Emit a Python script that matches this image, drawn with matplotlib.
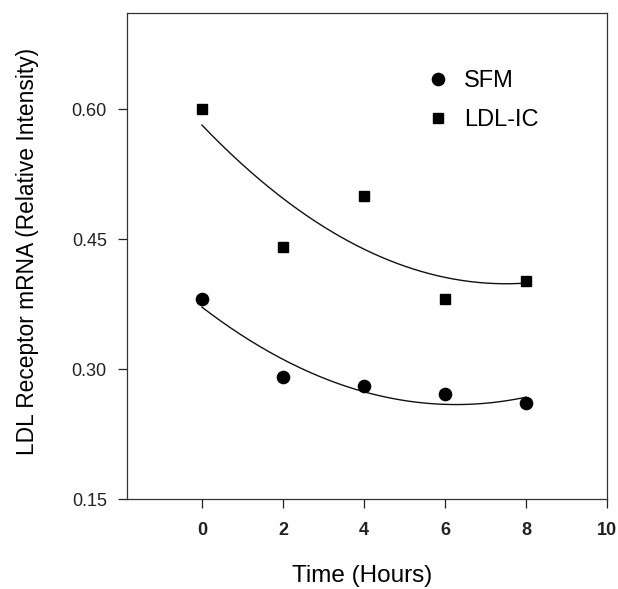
import numpy as np
import matplotlib
matplotlib.use("Agg")
import matplotlib.pyplot as plt

plt.rcParams['font.family'] = ['Liberation Sans', 'DejaVu Sans']

# Time points (hours)
hours = [0, 2, 4, 6, 8]

# LDL receptor mRNA (relative intensity)
sfm = [0.381, 0.291, 0.281, 0.271, 0.261]
ldl_ic = [0.600, 0.441, 0.500, 0.381, 0.402]

x_ticks = [0, 2, 4, 6, 8, 10]
y_ticks = [0.15, 0.30, 0.45, 0.60]

fig = plt.figure(figsize=(6.18, 5.89), dpi=100)
ax = fig.add_axes([0.2055, 0.1523, 0.7765, 0.8251])

# second order polynomial fits through each series
xs = np.linspace(min(hours), max(hours), 200)
for vals in (sfm, ldl_ic):
    coef = np.polyfit(hours, vals, 2)
    ax.plot(xs, np.polyval(coef, xs), color='#111111', lw=1.0, zorder=2)

ax.plot(hours, sfm, 'o', color='black', ms=8.8, ls='none', label='SFM', zorder=3)
ax.plot(hours, ldl_ic, 's', color='black', ms=7.8, ls='none', label='LDL-IC', zorder=3)

ax.set_xlim(-1.85, 10)
ax.set_ylim(0.15, 0.711)
ax.set_xticks(x_ticks)
ax.set_yticks(y_ticks)
ax.set_yticklabels([f'{v:.2f}' for v in y_ticks])
ax.tick_params(direction='out', length=6.5, width=0.9, colors='#222222')
ax.tick_params(axis='y', labelsize=13, pad=8)
ax.tick_params(axis='x', labelsize=13, pad=10)
for lab in ax.get_xticklabels():
    lab.set_fontweight('bold')
for s in ax.spines.values():
    s.set_linewidth(0.9)
    s.set_color('#333333')

ax.set_xlabel('Time (Hours)', fontsize=17.5, va='center')
ax.xaxis.set_label_coords(0.49, -0.158)
ax.set_ylabel('LDL Receptor mRNA (Relative Intensity)', fontsize=16.4, va='center')
ax.yaxis.set_label_coords(-0.208, 0.51)

leg = ax.legend(loc='upper left', bbox_to_anchor=(0.604, 0.902), frameon=False,
                fontsize=17, handletextpad=0.6, labelspacing=0.71,
                borderaxespad=0, handlelength=1.0)

fig.savefig('out.png', dpi=100)
